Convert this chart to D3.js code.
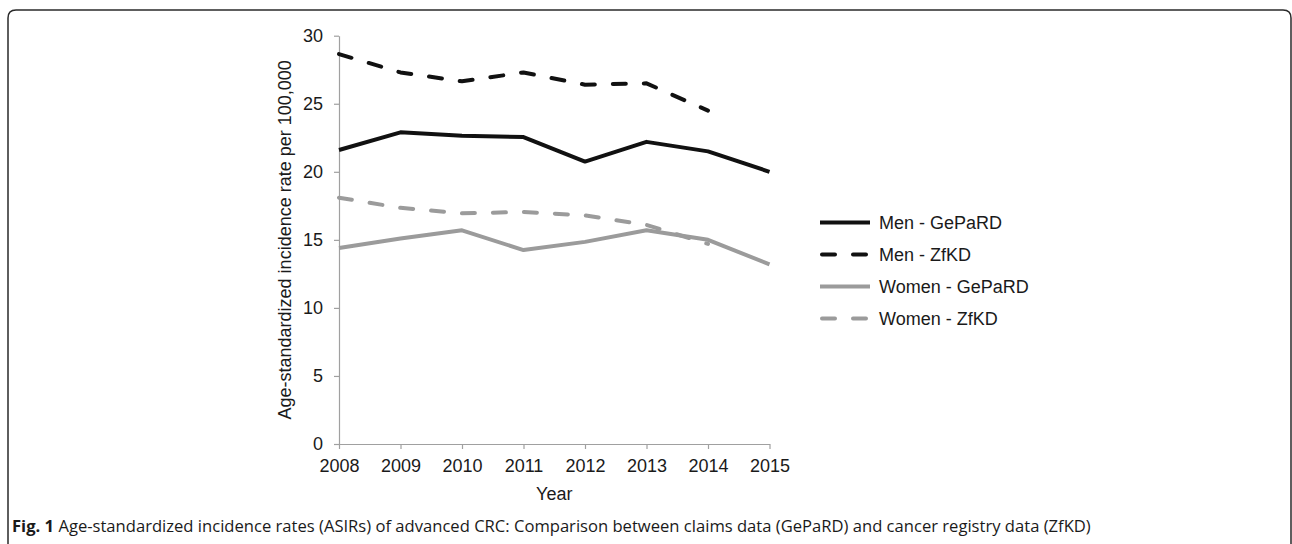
<!DOCTYPE html>
<html>
<head>
<meta charset="utf-8">
<script src="https://cdn.jsdelivr.net/npm/d3@7"></script>
<style>
  html, body { margin: 0; padding: 0; background: #fff; }
  svg { display: block; }
</style>
</head>
<body>
<div id="chart"></div>
<script>
const years = [2008, 2009, 2010, 2011, 2012, 2013, 2014, 2015];
const yTicks = [0, 5, 10, 15, 20, 25, 30];
const menGepard = [21.6, 22.9, 22.65, 22.55, 20.75, 22.2, 21.5, 20.0];
const menZfkd = [28.65, 27.3, 26.65, 27.3, 26.4, 26.5, 24.5];
const womenGepard = [14.4, 15.1, 15.7, 14.25, 14.85, 15.7, 15.0, 13.2];
const womenZfkd = [18.1, 17.35, 16.95, 17.05, 16.8, 16.1, 14.7];
const seriesNames = ["Men - GePaRD", "Men - ZfKD", "Women - GePaRD", "Women - ZfKD"];
const captionBold = "Fig. 1";
const captionText = " Age-standardized incidence rates (ASIRs) of advanced CRC: Comparison between claims data (GePaRD) and cancer registry data (ZfKD)";

const width = 1292;
const height = 544;
const margin = { top: 35.7, right: 522.5, bottom: 100, left: 339 };
const black = "#111";
const grey = "#9b9b9b";
const axisColor = "#a0a0a0";
const font = "'Liberation Sans', Arial, Helvetica, sans-serif";

const series = [
  { name: seriesNames[0], values: menGepard, color: black, dash: null },
  { name: seriesNames[1], values: menZfkd, color: black, dash: "13,18" },
  { name: seriesNames[2], values: womenGepard, color: grey, dash: null },
  { name: seriesNames[3], values: womenZfkd, color: grey, dash: "13,18" },
];

const svg = d3.select("#chart").append("svg").attr("width", width).attr("height", height);

// frame with rounded top corners, open at the bottom
svg
  .append("path")
  .attr("d", "M8,544 L8,18 Q8,10 16,10 L1283,10 Q1291,10 1291,18 L1291,544")
  .attr("fill", "none")
  .attr("stroke", "#2a2a2a")
  .attr("stroke-width", 1.5);

const x = d3.scaleLinear().domain([2008, 2015]).range([margin.left, width - margin.right]);
const y = d3.scaleLinear().domain([0, 30]).range([height - margin.bottom, margin.top]);

const xAxis = svg
  .append("g")
  .attr("transform", `translate(0,${y(0)})`)
  .call(d3.axisBottom(x).tickValues(years).tickFormat(d3.format("d")).tickSize(5).tickSizeOuter(0).tickPadding(10));

const yAxis = svg
  .append("g")
  .attr("transform", `translate(${x(2008)},0)`)
  .call(d3.axisLeft(y).tickValues(yTicks).tickSize(5).tickSizeOuter(0).tickPadding(11));

[xAxis, yAxis].forEach((axis) => {
  axis.selectAll("path,line").attr("stroke", axisColor).attr("stroke-width", 1.2);
  axis.selectAll("text").attr("fill", "#1a1a1a").attr("font-family", font).attr("font-size", 18);
});

const line = d3
  .line()
  .defined((d) => d != null)
  .x((d, i) => x(years[i]))
  .y((d) => y(d));

svg
  .append("g")
  .selectAll("path")
  .data(series)
  .join("path")
  .attr("fill", "none")
  .attr("stroke", (d) => d.color)
  .attr("stroke-width", 4)
  .attr("stroke-linejoin", "round")
  .attr("stroke-linecap", (d) => (d.dash ? "round" : "butt"))
  .attr("stroke-dasharray", (d) => d.dash)
  .attr("d", (d) => line(d.values));

// legend
const legend = svg
  .append("g")
  .selectAll("g")
  .data(series)
  .join("g")
  .attr("transform", (d, i) => `translate(820,${222.5 + i * 32})`);

legend
  .append("line")
  .attr("x1", (d) => (d.dash ? 2 : 0))
  .attr("x2", (d) => (d.dash ? 48 : 50))
  .attr("stroke", (d) => d.color)
  .attr("stroke-width", 4)
  .attr("stroke-linecap", (d) => (d.dash ? "round" : "butt"))
  .attr("stroke-dasharray", (d) => d.dash);

legend
  .append("text")
  .attr("x", 59)
  .attr("dy", "0.35em")
  .attr("fill", "#1a1a1a")
  .attr("font-family", font)
  .attr("font-size", 18)
  .text((d) => d.name);

// axis titles
svg
  .append("text")
  .attr("x", (x(2008) + x(2015)) / 2)
  .attr("y", 500)
  .attr("text-anchor", "middle")
  .attr("fill", "#1a1a1a")
  .attr("font-family", font)
  .attr("font-size", 18)
  .text("Year");

svg
  .append("text")
  .attr("transform", `translate(291,${(y(0) + y(30)) / 2}) rotate(-90)`)
  .attr("text-anchor", "middle")
  .attr("fill", "#1a1a1a")
  .attr("font-family", font)
  .attr("font-size", 18)
  .text("Age-standardized incidence rate per 100,000");

// figure caption
const caption = svg
  .append("text")
  .attr("x", 12)
  .attr("y", 532)
  .attr("fill", "#1a1a1a")
  .attr("font-family", "'Open Sans', 'Noto Sans', sans-serif")
  .attr("font-size", 16.6);
caption.append("tspan").attr("font-weight", "bold").text(captionBold);
caption.append("tspan").text(captionText);
</script>
</body>
</html>
